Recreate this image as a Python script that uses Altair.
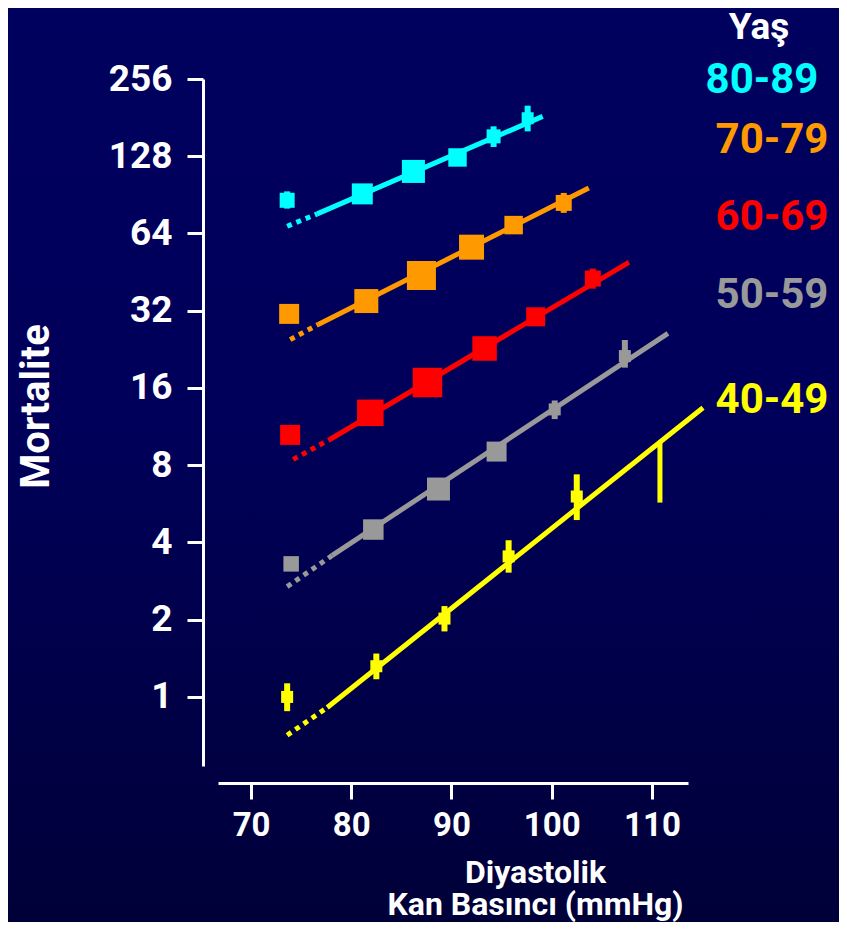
import altair as alt
import pandas as pd

# ---------------- data ----------------
groups = ["80-89", "70-79", "60-69", "50-59", "40-49"]
colors = ["#00FFFF", "#FF9900", "#FF0000", "#999999", "#FFFF00"]

# observed points (diastolic BP, mortality)
cyan_x = [73.6, 81.1, 86.2, 90.6, 94.2, 97.6]
cyan_y = [86.2, 91.3, 111.7, 126.6, 153, 180]
cyan_n = [225, 440, 530, 340, 196, 144]

orange_x = [73.8, 81.5, 87.0, 92.0, 96.2, 101.2]
orange_y = [31.1, 34.9, 43.9, 56.6, 69.0, 84.2]
orange_n = [400, 576, 841, 625, 342, 256]

red_x = [73.9, 81.9, 87.6, 93.3, 98.4, 104.1]
red_y = [10.5, 12.8, 16.8, 22.8, 30.3, 42.7]
red_n = [400, 702, 870, 600, 361, 256]

gray_x = [74.0, 82.2, 88.7, 94.5, 100.3, 107.3]
gray_y = [3.30, 4.49, 6.46, 9.04, 13.2, 21.3]
gray_n = [240, 420, 529, 400, 144, 144]

yellow_x = [73.6, 82.5, 89.3, 95.7, 102.5]
yellow_y = [1.0, 1.317, 2.02, 3.53, 6.04]
yellow_n = [144, 144, 144, 144, 144]

# confidence intervals (x, low, high)
err_group = ["80-89", "80-89", "80-89", "70-79", "60-69", "50-59", "50-59",
             "40-49", "40-49", "40-49", "40-49", "40-49"]
err_x = [73.6, 94.2, 97.6, 101.2, 104.1, 100.3, 107.3,
         73.6, 82.5, 89.3, 95.7, 102.5]
err_lo = [80.0, 139.1, 160.0, 77.0, 39.0, 12.1, 19.2,
          0.88, 1.172, 1.80, 3.05, 4.89]
err_hi = [93.4, 167.4, 201.5, 92.1, 46.7, 14.3, 24.6,
          1.13, 1.476, 2.26, 4.08, 7.37]

# fitted lines: [extrapolated start, fitted start, end]
fit_x = {
    "80-89": [73.6, 76.6, 99.1],
    "70-79": [73.9, 76.7, 103.7],
    "60-69": [74.2, 77.9, 107.7],
    "50-59": [73.6, 78.1, 111.6],
    "40-49": [73.6, 77.6, 115.1],
}
fit_y = {
    "80-89": [68.3, 76.3, 183],
    "70-79": [24.7, 28.3, 96.3],
    "60-69": [8.43, 10.1, 49.4],
    "50-59": [2.69, 3.56, 26.1],
    "40-49": [0.709, 0.909, 13.4],
}

# extra vertical marker on the 40-49 line
mark_x = [110.8]
mark_lo = [5.72]
mark_hi = [9.79]

y_ticks = [1, 2, 4, 8, 16, 32, 64, 128, 256]
x_ticks = [70, 80, 90, 100, 110]

# ---------------- tables ----------------
pts_x = [cyan_x, orange_x, red_x, gray_x, yellow_x]
pts_y = [cyan_y, orange_y, red_y, gray_y, yellow_y]
pts_n = [cyan_n, orange_n, red_n, gray_n, yellow_n]
rows = []
for g, xs, ys, ns in zip(groups, pts_x, pts_y, pts_n):
    for a, b, c in zip(xs, ys, ns):
        rows.append({"group": g, "x": a, "y": b, "n": c})
points = pd.DataFrame(rows)

errs = pd.DataFrame({"group": err_group, "x": err_x, "lo": err_lo, "hi": err_hi})

lrows = []
for g in groups:
    xs, ys = fit_x[g], fit_y[g]
    lrows.append({"group": g, "seg": "dot", "x": xs[0], "y": ys[0], "o": 0})
    lrows.append({"group": g, "seg": "dot", "x": xs[1], "y": ys[1], "o": 1})
    lrows.append({"group": g, "seg": "solid", "x": xs[1], "y": ys[1], "o": 0})
    lrows.append({"group": g, "seg": "solid", "x": xs[2], "y": ys[2], "o": 1})
lines = pd.DataFrame(lrows)

marker = pd.DataFrame({"x": mark_x, "lo": mark_lo, "hi": mark_hi})

# ---------------- layout ----------------
W, H = 470, 687
PAD = {"left": 210, "top": 71, "right": 151, "bottom": 156}
FONT = "Roboto"

color = alt.Color("group:N", scale=alt.Scale(domain=groups, range=colors), legend=None)

xscale = alt.Scale(domain=[66.7, 113.6], nice=False, zero=False)
yscale = alt.Scale(type="log", base=2, domain=[0.538, 256], nice=False)

xaxis = alt.Axis(
    values=x_ticks, offset=17, grid=False, zindex=2,
    domainColor="white", domainWidth=3, tickColor="white", tickWidth=3, tickSize=16,
    labelColor="white", labelFont=FONT, labelFontSize=33, labelFontWeight="bold",
    labelPadding=10, labelFlush=False,
    title=["Diyastolik", "Kan Basıncı (mmHg)"], titleColor="white", titleFont=FONT,
    titleFontSize=32, titleFontWeight="bold", titleX=317, titleY=99,
    titleAlign="center", titleBaseline="alphabetic", titleLineHeight=32,
)
yaxis = alt.Axis(
    values=y_ticks, offset=15, grid=False, zindex=2, format="d",
    domainColor="white", domainWidth=3, tickColor="white", tickWidth=3, tickSize=16,
    labelColor="white", labelFont=FONT, labelFontSize=37, labelFontWeight="bold",
    labelPadding=15, labelFlush=False,
    title="Mortalite", titleColor="white", titleFont=FONT, titleFontSize=40,
    titleFontWeight="bold", titleAngle=270, titleX=-167, titleY=327,
    titleAlign="center", titleBaseline="middle",
)

bg = alt.Chart(pd.DataFrame({"k": [0]})).mark_rect(
    fill=alt.Gradient(
        gradient="linear",
        stops=[alt.GradientStop(color="#00005E", offset=0),
               alt.GradientStop(color="#00005A", offset=0.45),
               alt.GradientStop(color="#000038", offset=1)],
        x1=0, x2=0, y1=0, y2=1,
    )
).encode(
    x=alt.value(-PAD["left"] - 10), x2=alt.value(W + PAD["right"] + 10),
    y=alt.value(-PAD["top"] - 10), y2=alt.value(H + PAD["bottom"] + 10),
)

base = alt.Chart(lines)
solid = base.transform_filter(alt.datum.seg == "solid").mark_line(
    strokeWidth=5, strokeCap="butt"
).encode(
    x=alt.X("x:Q", scale=xscale, axis=xaxis),
    y=alt.Y("y:Q", scale=yscale, axis=yaxis),
    color=color, detail="group:N", order="o:Q",
)
dotted = base.transform_filter(alt.datum.seg == "dot").mark_line(
    strokeWidth=5, strokeDash=[5, 5], strokeCap="butt"
).encode(x="x:Q", y="y:Q", color=color, detail="group:N", order="o:Q")

squares = alt.Chart(points).mark_square(opacity=1, filled=True).encode(
    x="x:Q", y="y:Q", color=color, size=alt.Size("n:Q", scale=None),
)

bars = alt.Chart(errs).mark_rule(strokeWidth=6).encode(
    x="x:Q", y="lo:Q", y2="hi:Q", color=color,
)

vmark = alt.Chart(marker).mark_rule(strokeWidth=5, color="#FFFF00").encode(
    x="x:Q", y="lo:Q", y2="hi:Q",
)

label_pos = [(544, 14), (554, 74), (554, 151), (554, 229), (554, 334)]
texts = []
for g, c, (px, py) in zip(groups, colors, label_pos):
    texts.append(
        alt.Chart(pd.DataFrame({"k": [0]})).mark_text(
            font=FONT, fontSize=42, fontWeight="bold", align="center", baseline="alphabetic"
        ).encode(x=alt.value(px), y=alt.value(py), text=alt.value(g), color=alt.value(c))
    )
texts.append(
    alt.Chart(pd.DataFrame({"k": [0]})).mark_text(
        font=FONT, fontSize=37, fontWeight="bold", align="center", baseline="alphabetic"
    ).encode(x=alt.value(541), y=alt.value(-40), text=alt.value("Yaş"), color=alt.value("white"))
)

chart = alt.layer(bg, solid, dotted, squares, bars, vmark, *texts).properties(
    width=W, height=H, padding=PAD, autosize="none", background="#00005E",
).configure_view(stroke=None)

chart.save("out.html", embed_options={"renderer": "svg", "actions": False})
